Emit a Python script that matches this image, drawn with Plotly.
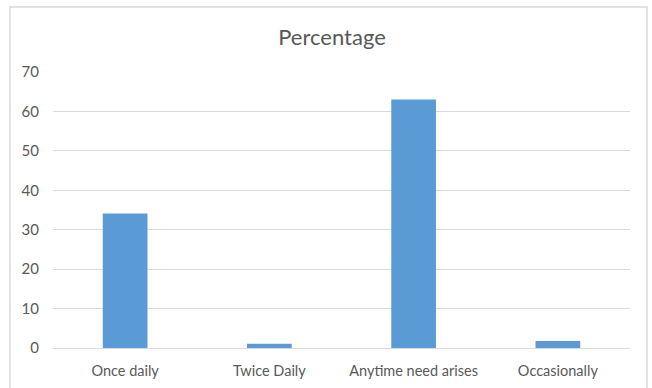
import plotly.graph_objects as go

# Frequency categories and their percentage share
categories = ["Once daily", "Twice Daily", "Anytime need arises", "Occasionally"]
percentages = [34.1, 1.1, 63.0, 1.8]
y_ticks = [0, 10, 20, 30, 40, 50, 60, 70]

W, H = 652, 388
ml, mr, mt, mb = 53, 22, 72, 40
pw, ph = W - ml - mr, H - mt - mb

text_color = "#595959"
grid_color = "#D9D9D9"
font_family = "Lato, 'Open Sans', sans-serif"

fig = go.Figure(
    go.Bar(
        x=categories,
        y=percentages,
        marker=dict(color="#5B9BD5", line=dict(width=0)),
        width=0.31,
    )
)

fig.update_layout(
    width=W,
    height=H,
    margin=dict(l=ml, r=mr, t=mt, b=mb, autoexpand=False),
    paper_bgcolor="white",
    plot_bgcolor="white",
    showlegend=False,
    title=dict(
        text="Percentage",
        xref="container",
        yref="container",
        x=332 / W,
        xanchor="center",
        y=1 - 37 / H,
        yanchor="middle",
        font=dict(family=font_family, size=22, color=text_color),
    ),
    font=dict(family=font_family, size=14, color=text_color),
)

fig.update_xaxes(
    automargin=False,
    showgrid=False,
    showline=True,
    linecolor=grid_color,
    linewidth=1,
    ticks="",
    ticklabelstandoff=10,
    tickfont=dict(size=14.5, color=text_color),
)
fig.update_yaxes(
    automargin=False,
    range=[0, 70],
    tickvals=y_ticks,
    showgrid=True,
    gridcolor=grid_color,
    gridwidth=1,
    zeroline=False,
    showline=False,
    ticks="",
    ticklabelstandoff=13,
    tickfont=dict(size=15, color=text_color),
)

# Light chart-area frame around the whole figure
fig.add_shape(
    type="rect",
    xref="paper",
    yref="paper",
    x0=(10 - ml) / pw,
    x1=(647 - ml) / pw,
    y0=(H - mb - 395) / ph,
    y1=(H - mb - 7) / ph,
    line=dict(color="#D9D9D9", width=1.5),
    fillcolor="rgba(0,0,0,0)",
    layer="below",
)

fig.write_html("out.html")
